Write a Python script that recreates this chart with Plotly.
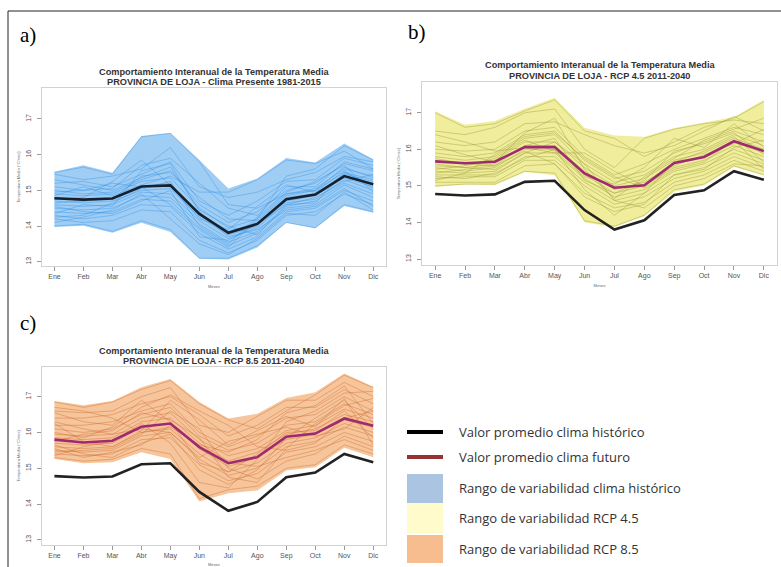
import plotly.graph_objects as go

# ---------------- DATA ----------------
months = ["Ene", "Feb", "Mar", "Abr", "May", "Jun", "Jul", "Ago", "Sep", "Oct", "Nov", "Dic"]
y_ticks = [13, 14, 15, 16, 17]

hist_mean = [14.78, 14.74, 14.77, 15.11, 15.14, 14.34, 13.81, 14.06, 14.75, 14.88, 15.40, 15.17]
hist_max = [15.52, 15.70, 15.49, 16.52, 16.61, 15.85, 15.05, 15.33, 15.91, 15.78, 16.31, 15.87]
hist_min = [13.97, 14.01, 13.81, 14.09, 13.83, 13.08, 13.06, 13.40, 14.09, 13.94, 14.56, 14.37]
hist_years = [
    [15.45, 15.30, 15.40, 15.60, 16.20, 15.10, 14.80, 14.95, 15.30, 15.50, 15.95, 15.80],
    [15.20, 15.25, 15.10, 15.45, 15.80, 14.70, 14.30, 14.70, 15.25, 15.30, 15.90, 15.70],
    [15.00, 14.90, 14.95, 15.30, 15.55, 14.60, 14.10, 14.40, 15.00, 15.20, 15.75, 15.55],
    [14.90, 14.85, 14.90, 15.25, 15.35, 14.50, 13.95, 14.20, 14.90, 15.05, 15.60, 15.40],
    [14.80, 14.70, 14.80, 15.10, 15.20, 14.35, 13.85, 14.10, 14.80, 14.90, 15.45, 15.25],
    [14.70, 14.65, 14.70, 15.00, 15.05, 14.25, 13.75, 14.00, 14.70, 14.85, 15.35, 15.10],
    [14.60, 14.55, 14.60, 14.95, 14.90, 14.15, 13.65, 13.95, 14.65, 14.75, 15.30, 15.00],
    [14.50, 14.45, 14.50, 14.85, 14.80, 14.05, 13.55, 13.85, 14.55, 14.70, 15.20, 14.90],
    [14.40, 14.35, 14.40, 14.75, 14.70, 13.95, 13.45, 13.80, 14.50, 14.60, 15.15, 14.80],
    [14.30, 14.20, 14.30, 14.60, 14.55, 13.80, 13.35, 13.70, 14.40, 14.50, 15.00, 14.70],
    [14.20, 14.10, 14.15, 14.45, 14.40, 13.60, 13.25, 13.60, 14.30, 14.40, 14.90, 14.60],
    [14.00, 14.05, 13.85, 14.15, 13.90, 13.10, 13.10, 13.45, 14.10, 13.95, 14.60, 14.40],
    [15.50, 15.65, 15.45, 16.50, 16.60, 15.80, 14.60, 14.50, 14.90, 15.00, 15.50, 15.30],
    [14.95, 15.00, 15.05, 15.70, 15.90, 15.20, 14.50, 14.30, 15.10, 15.10, 15.80, 15.60],
    [14.65, 14.70, 14.75, 15.40, 15.50, 14.80, 14.20, 14.15, 14.85, 15.00, 15.65, 15.35],
    [14.55, 14.40, 14.35, 14.70, 15.00, 13.70, 13.60, 14.05, 14.60, 14.65, 15.50, 15.15],
    [15.10, 15.00, 15.20, 15.10, 14.60, 13.90, 13.40, 14.20, 15.40, 15.60, 16.25, 15.85],
    [14.35, 14.60, 14.55, 15.55, 15.75, 14.40, 13.70, 13.90, 14.45, 14.55, 15.05, 14.55],
    [14.10, 14.25, 14.45, 14.90, 14.20, 13.50, 13.20, 13.65, 14.35, 14.30, 14.95, 14.45],
    [14.85, 15.10, 14.85, 15.15, 15.40, 14.95, 14.95, 15.30, 15.85, 15.75, 16.10, 15.60],
    [14.25, 14.30, 14.65, 15.05, 15.25, 14.00, 13.50, 14.25, 14.95, 15.25, 15.70, 14.95],
    [15.30, 15.15, 15.00, 15.35, 15.65, 14.45, 14.00, 13.75, 14.60, 14.80, 15.25, 15.45],
    [14.75, 14.80, 15.25, 15.85, 15.15, 14.20, 13.90, 14.55, 15.15, 14.95, 15.55, 15.05],
]

rcp45_mean = [15.67, 15.62, 15.66, 16.06, 16.06, 15.34, 14.95, 15.02, 15.63, 15.79, 16.22, 15.95]
rcp45_max = [17.04, 16.67, 16.77, 17.11, 17.41, 16.59, 16.38, 16.34, 16.58, 16.72, 16.88, 17.35]
rcp45_min = [14.97, 15.04, 15.02, 15.38, 15.29, 14.00, 13.88, 14.17, 14.84, 15.02, 15.52, 15.29]
rcp45_years = [
    [17.00, 16.60, 16.70, 17.05, 17.35, 16.50, 16.30, 15.80, 16.20, 16.60, 16.85, 17.30],
    [16.50, 16.40, 16.60, 17.00, 17.10, 16.00, 15.50, 16.30, 16.55, 16.70, 16.80, 16.70],
    [16.20, 16.10, 16.20, 16.70, 16.75, 16.40, 16.10, 15.90, 16.10, 16.50, 16.90, 16.50],
    [16.00, 15.95, 16.00, 16.50, 16.60, 15.80, 15.30, 15.60, 16.00, 16.30, 16.60, 16.40],
    [15.90, 15.80, 15.90, 16.40, 16.50, 15.70, 15.20, 15.40, 15.90, 16.20, 16.50, 16.20],
    [15.80, 15.70, 15.80, 16.30, 16.40, 15.60, 15.10, 15.30, 15.80, 16.00, 16.40, 16.10],
    [15.70, 15.60, 15.70, 16.20, 16.20, 15.50, 15.00, 15.20, 15.70, 15.90, 16.30, 16.00],
    [15.60, 15.50, 15.60, 16.10, 16.10, 15.40, 14.90, 15.10, 15.60, 15.80, 16.20, 15.90],
    [15.50, 15.40, 15.50, 16.00, 16.00, 15.30, 14.80, 15.00, 15.50, 15.70, 16.10, 15.80],
    [15.40, 15.35, 15.40, 15.90, 15.90, 15.20, 14.70, 14.90, 15.40, 15.60, 16.00, 15.70],
    [15.30, 15.30, 15.30, 15.80, 15.80, 15.10, 14.60, 14.80, 15.30, 15.50, 15.90, 15.60],
    [15.20, 15.25, 15.25, 15.70, 15.70, 15.00, 14.50, 14.70, 15.20, 15.40, 15.80, 15.50],
    [15.10, 15.10, 15.10, 15.55, 15.60, 14.80, 14.40, 14.55, 15.10, 15.30, 15.70, 15.40],
    [15.00, 15.05, 15.05, 15.40, 15.35, 14.05, 13.90, 14.20, 14.90, 15.05, 15.55, 15.30],
    [15.55, 15.50, 15.45, 15.90, 16.20, 15.60, 14.60, 14.40, 15.00, 15.20, 15.60, 15.55],
    [15.35, 15.45, 15.55, 16.10, 16.30, 15.15, 14.80, 15.15, 15.95, 16.15, 16.45, 15.85],
    [15.75, 15.60, 15.55, 15.95, 15.60, 14.70, 14.30, 14.50, 15.30, 15.45, 16.05, 16.25],
    [16.40, 16.20, 15.95, 16.05, 15.90, 15.90, 15.40, 15.00, 15.55, 15.85, 16.15, 16.55],
    [15.25, 15.20, 15.35, 15.75, 16.00, 14.90, 14.20, 14.80, 15.65, 15.95, 16.35, 15.65],
    [15.45, 15.55, 15.75, 16.25, 15.95, 15.25, 15.05, 15.50, 16.30, 16.05, 16.70, 16.05],
    [16.10, 15.85, 15.65, 16.45, 16.85, 15.45, 14.65, 15.25, 15.75, 16.25, 16.55, 16.85],
    [15.15, 15.35, 15.85, 16.35, 16.45, 15.75, 15.25, 14.95, 15.45, 15.65, 16.25, 15.45],
]

rcp85_mean = [15.80, 15.72, 15.77, 16.16, 16.25, 15.59, 15.14, 15.31, 15.88, 15.97, 16.39, 16.19]
rcp85_max = [16.88, 16.76, 16.88, 17.26, 17.49, 16.85, 16.39, 16.52, 16.96, 17.12, 17.65, 17.28]
rcp85_min = [15.26, 15.14, 15.17, 15.45, 15.26, 14.07, 14.30, 14.38, 14.94, 15.03, 15.57, 15.31]
rcp85_years = [
    [16.85, 16.70, 16.85, 17.20, 17.45, 16.80, 16.35, 16.10, 16.60, 17.05, 17.60, 17.25],
    [16.60, 16.55, 16.60, 17.00, 17.25, 16.20, 16.00, 16.45, 16.90, 16.90, 17.40, 17.00],
    [16.40, 16.40, 16.50, 16.80, 17.00, 16.50, 15.90, 16.20, 16.70, 16.70, 17.20, 16.80],
    [16.20, 16.20, 16.30, 16.60, 16.80, 16.00, 15.60, 15.90, 16.40, 16.50, 17.00, 16.60],
    [16.10, 16.00, 16.10, 16.50, 16.70, 15.90, 15.50, 15.70, 16.20, 16.30, 16.80, 16.50],
    [15.95, 15.90, 15.95, 16.40, 16.55, 15.80, 15.35, 15.55, 16.05, 16.20, 16.65, 16.40],
    [15.85, 15.80, 15.85, 16.30, 16.40, 15.70, 15.20, 15.45, 15.95, 16.10, 16.50, 16.30],
    [15.70, 15.65, 15.70, 16.15, 16.25, 15.55, 15.05, 15.30, 15.80, 15.95, 16.35, 16.15],
    [15.60, 15.55, 15.60, 16.00, 16.10, 15.40, 14.90, 15.15, 15.70, 15.85, 16.25, 16.00],
    [15.50, 15.45, 15.50, 15.90, 16.00, 15.25, 14.80, 15.00, 15.60, 15.75, 16.15, 15.90],
    [15.40, 15.35, 15.40, 15.80, 15.85, 15.10, 14.65, 14.85, 15.45, 15.60, 16.00, 15.75],
    [15.30, 15.20, 15.25, 15.55, 15.40, 14.15, 14.40, 14.50, 15.00, 15.10, 15.65, 15.40],
    [15.45, 15.50, 15.55, 15.95, 16.60, 16.10, 15.00, 14.70, 15.20, 15.40, 15.90, 15.60],
    [16.30, 16.10, 15.95, 16.10, 16.00, 15.30, 15.75, 15.95, 16.15, 15.90, 16.10, 16.70],
    [15.65, 15.40, 15.30, 15.70, 15.95, 14.95, 14.55, 14.95, 15.85, 16.40, 16.90, 16.10],
    [16.00, 15.85, 16.15, 16.70, 17.05, 16.60, 16.20, 15.60, 15.50, 15.70, 16.40, 16.60],
    [15.35, 15.60, 15.75, 16.25, 15.70, 14.60, 14.45, 15.25, 16.30, 16.60, 17.10, 17.15],
    [16.55, 16.30, 16.20, 16.90, 16.30, 15.15, 14.90, 15.40, 16.00, 16.05, 16.60, 15.85],
    [15.55, 15.30, 15.45, 15.65, 16.20, 15.60, 15.15, 15.05, 15.30, 15.50, 15.80, 15.50],
    [16.70, 16.60, 16.40, 16.00, 16.15, 15.65, 15.45, 15.80, 16.55, 16.75, 17.30, 16.25],
    [15.75, 15.95, 16.05, 16.55, 16.35, 15.85, 14.75, 14.60, 15.55, 16.25, 16.75, 16.95],
    [16.25, 15.75, 15.60, 16.05, 16.90, 16.35, 15.65, 16.05, 16.45, 16.15, 16.95, 15.65],
]

title_line1 = "Comportamiento Interanual de la Temperatura Media"
titles_line2 = ["PROVINCIA DE LOJA - Clima Presente 1981-2015",
                "PROVINCIA DE LOJA - RCP 4.5 2011-2040",
                "PROVINCIA DE LOJA - RCP 8.5 2011-2040"]
panel_labels = ["a)", "b)", "c)"]
legend_labels = ["Valor promedio clima histórico",
                 "Valor promedio clima futuro",
                 "Rango de variabilidad clima histórico",
                 "Rango de variabilidad RCP 4.5",
                 "Rango de variabilidad RCP 8.5"]

# ---------------- LAYOUT HELPERS ----------------
W, H = 781, 567
def fx(px):
    return px / W
def fy(py):
    return 1 - py / H

fig = go.Figure()

panels = [
    dict(ax="", box=(41.7, 386.0, 88.3, 266.0), yr=[12.88, 17.86],
         band=(hist_max, hist_min), years=hist_years, fut=None,
         fill="#9fcdf4", linec="rgba(30,136,229,0.42)", meanc="#16212f",
         t1=71.5, t2=81.5, lab=(18, 35)),
    dict(ax="2", box=(422.0, 777.0, 82.3, 265.0), yr=[12.84, 17.83],
         band=(rcp45_max, rcp45_min), years=rcp45_years, fut=rcp45_mean,
         fill="#f0ee9c", linec="rgba(150,150,50,0.5)", meanc="#222222",
         t1=65.0, t2=76.0, lab=(406, 32)),
    dict(ax="3", box=(41.7, 386.0, 367.3, 544.5), yr=[12.87, 17.82],
         band=(rcp85_max, rcp85_min), years=rcp85_years, fut=rcp85_mean,
         fill="#f6c59b", linec="rgba(205,105,45,0.5)", meanc="#222222",
         t1=351.0, t2=361.0, lab=(18, 323)),
]

axis_common = dict(showline=True, mirror=True, linecolor="#d2d2d2", linewidth=1,
                   ticks="outside", ticklen=4, tickcolor="#9a9a9a", showgrid=False,
                   zeroline=False, tickfont=dict(family="Liberation Sans", size=7, color="#555555"))

for i, p in enumerate(panels):
    xa, ya = "x" + p["ax"], "y" + p["ax"]
    mx, mn = p["band"]
    fig.add_trace(go.Scatter(x=months, y=mx, xaxis=xa, yaxis=ya, mode="lines",
                             line=dict(width=0, color=p["fill"]), showlegend=False, hoverinfo="skip"))
    fig.add_trace(go.Scatter(x=months, y=mn, xaxis=xa, yaxis=ya, mode="lines", fill="tonexty",
                             fillcolor=p["fill"], line=dict(width=0, color=p["fill"]),
                             showlegend=False, hoverinfo="skip"))
    for yy in p["years"]:
        fig.add_trace(go.Scatter(x=months, y=yy, xaxis=xa, yaxis=ya, mode="lines",
                                 line=dict(width=0.8, color=p["linec"]), showlegend=False))
    fig.add_trace(go.Scatter(x=months, y=hist_mean, xaxis=xa, yaxis=ya, mode="lines",
                             line=dict(width=2.6, color=p["meanc"]), showlegend=False))
    if p["fut"] is not None:
        fig.add_trace(go.Scatter(x=months, y=p["fut"], xaxis=xa, yaxis=ya, mode="lines",
                                 line=dict(width=2.6, color="#a02a70"), showlegend=False))

    x0, x1, y0, y1 = p["box"]
    xkey = "xaxis" + p["ax"]
    ykey = "yaxis" + p["ax"]
    fig.update_layout(**{
        xkey: dict(axis_common, domain=[fx(x0), fx(x1)], anchor=ya,
                   type="category", range=[-0.44, 11.44],
                   title=dict(text="Meses", font=dict(family="Liberation Sans", size=4, color="#666"),
                              standoff=4)),
        ykey: dict(axis_common, domain=[fy(y1), fy(y0)], anchor=xa, range=p["yr"],
                   tickvals=y_ticks, tickangle=-90, ticklabelstandoff=3,
                   title=dict(text="Temperatura Media (°C/mes)",
                              font=dict(family="Liberation Sans", size=4, color="#666"),
                              standoff=4)),
    })
    cx = fx((x0 + x1) / 2)
    fig.add_annotation(x=cx, y=fy(p["t1"]), xref="paper", yref="paper", text="<b>" + title_line1 + "</b>",
                       showarrow=False, xanchor="center", yanchor="middle",
                       font=dict(family="Liberation Sans", size=9.2, color="#333333"))
    fig.add_annotation(x=cx, y=fy(p["t2"]), xref="paper", yref="paper", text="<b>" + titles_line2[i] + "</b>",
                       showarrow=False, xanchor="center", yanchor="middle",
                       font=dict(family="Liberation Sans", size=9.2, color="#333333"))
    lx, ly = p["lab"]
    fig.add_annotation(x=fx(lx), y=fy(ly), xref="paper", yref="paper", text=panel_labels[i],
                       showarrow=False, xanchor="left", yanchor="middle",
                       font=dict(family="Liberation Serif", size=21, color="#000000"))

# frame
shapes = [
    dict(type="line", xref="paper", yref="paper", x0=fx(8), x1=1, y0=fy(11), y1=fy(11),
         line=dict(color="#222", width=1)),
    dict(type="line", xref="paper", yref="paper", x0=fx(8), x1=fx(8), y0=fy(11), y1=0,
         line=dict(color="#222", width=1)),
]
# legend
shapes += [
    dict(type="line", xref="paper", yref="paper", x0=fx(407), x1=fx(443), y0=fy(432), y1=fy(432),
         line=dict(color="#000000", width=4)),
    dict(type="line", xref="paper", yref="paper", x0=fx(407), x1=fx(443), y0=fy(457), y1=fy(457),
         line=dict(color="#963232", width=4)),
    dict(type="rect", xref="paper", yref="paper", x0=fx(407), x1=fx(443), y0=fy(503), y1=fy(474),
         fillcolor="#aac4e2", line=dict(width=0)),
    dict(type="rect", xref="paper", yref="paper", x0=fx(407), x1=fx(443), y0=fy(533), y1=fy(503),
         fillcolor="#fffbcb", line=dict(width=0)),
    dict(type="rect", xref="paper", yref="paper", x0=fx(407), x1=fx(443), y0=fy(563), y1=fy(535),
         fillcolor="#f8bd8e", line=dict(width=0)),
]
legend_y = [432, 457, 488, 518, 549]
for txt, ly in zip(legend_labels, legend_y):
    fig.add_annotation(x=fx(457), y=fy(ly), xref="paper", yref="paper", text=txt, showarrow=False,
                       xanchor="left", yanchor="middle",
                       font=dict(family="Open Sans", size=13, color="#333333"))

fig.update_layout(width=W, height=H, margin=dict(l=0, r=0, t=0, b=0),
                  paper_bgcolor="white", plot_bgcolor="white", shapes=shapes, showlegend=False)

fig.write_html("out.html")
